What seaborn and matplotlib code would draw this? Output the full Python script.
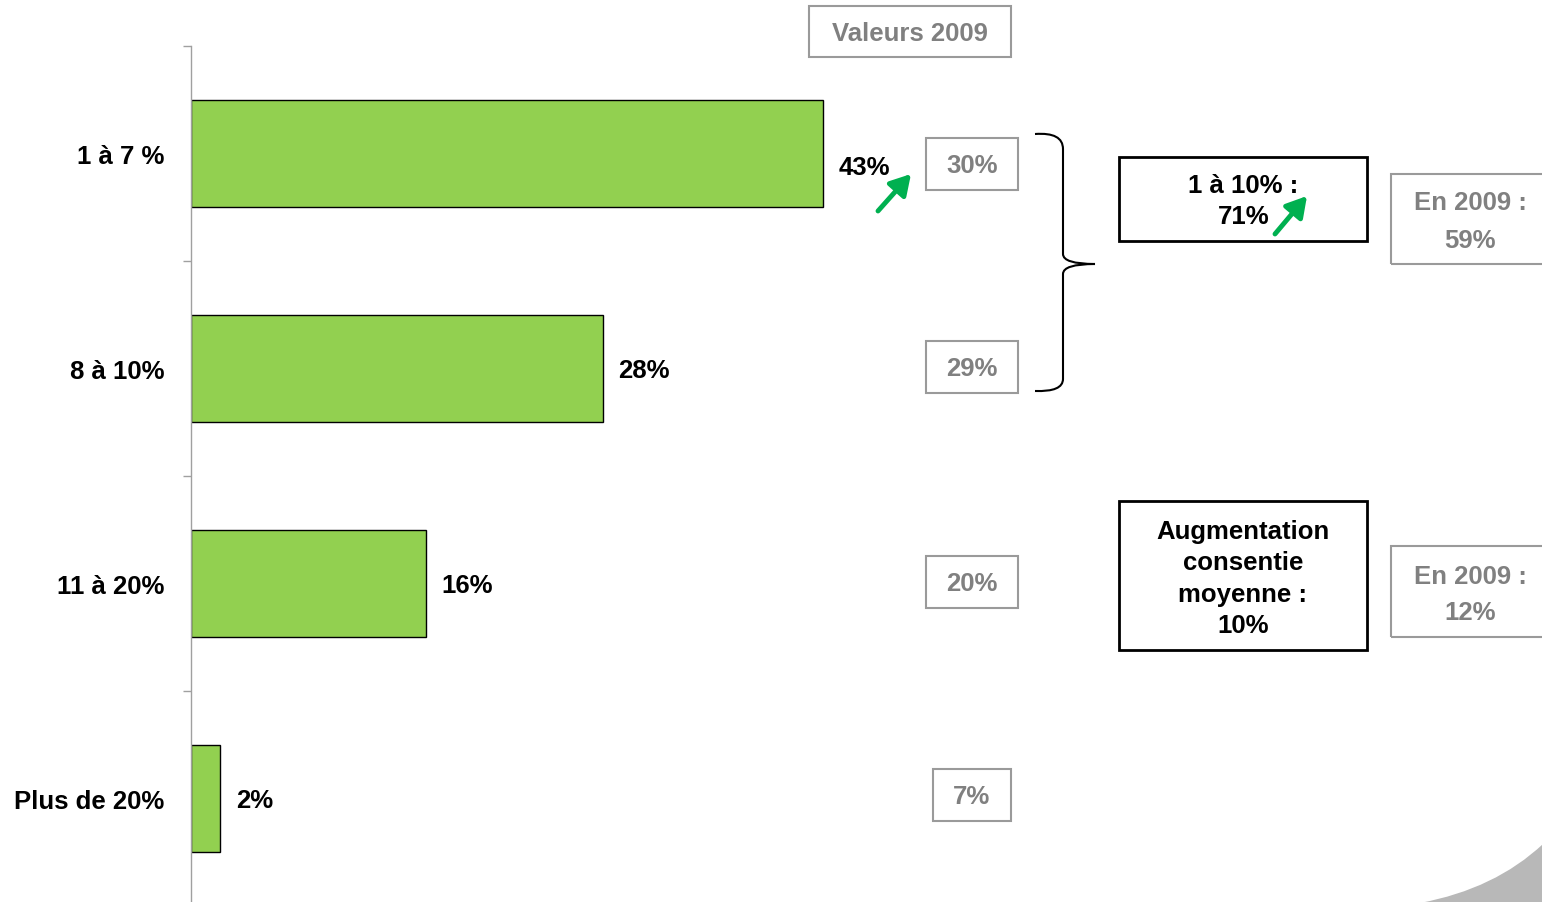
import numpy as np
import pandas as pd
import matplotlib
matplotlib.use("Agg")
import matplotlib.pyplot as plt
import seaborn as sns
from matplotlib.patches import Rectangle, FancyArrowPatch, PathPatch
from matplotlib.path import Path

# data
categories = ["1 à 7 %", "8 à 10%", "11 à 20%", "Plus de 20%"]
values = [43, 28, 16, 2]
values_2009 = [30, 29, 20, 7]
group_label = "1 à 10% :"
group_value = 71
group_value_2009 = 59
avg_value = 10
avg_value_2009 = 12

df = pd.DataFrame({"cat": categories, "val": values})

sns.set_style("white")
plt.rcParams["font.family"] = ["Liberation Sans", "DejaVu Sans"]
plt.rcParams["font.weight"] = "bold"

W, H = 1542, 903
fig = plt.figure(figsize=(W / 100, H / 100), dpi=100)
ax = fig.add_axes([191 / W, -4 / H, 1 - 191 / W, 860 / H])

green = "#92D050"
grey_txt = "#808080"
grey_edge = "#9A9A9A"
arrow_green = "#00B050"
fs = 18.5

sns.barplot(data=df, x="val", y="cat", orient="h", color=green, width=0.5,
            edgecolor="black", linewidth=1, saturation=1, ax=ax)
ax.set_xlim(0, 1351 / 14.7)
ax.set_ylim(3.5, -0.5)
ax.set_xlabel("")
ax.set_ylabel("")
for s in ["top", "right", "bottom"]:
    ax.spines[s].set_visible(False)
ax.spines["left"].set_color("#A0A0A0")
ax.spines["left"].set_linewidth(1)
ax.set_xticks([])
ax.tick_params(axis="y", which="major", length=0, pad=19, labelsize=fs, labelcolor="black")
ax.set_yticks(np.arange(len(categories)) - 0.5, minor=True)
ax.tick_params(axis="y", which="minor", left=True, length=6, color="#A0A0A0", width=1)
for t in ax.get_yticklabels():
    t.set_fontweight("bold")
    t.set_color("black")

labels = ax.bar_label(ax.containers[0], labels=[f"{v}%" for v in values],
                      padding=11, fontsize=fs, fontweight="bold", color="black")
labels[0].xyann = (11, -10)
for lb in labels[1:]:
    lb.xyann = (11, -1)


def fx(x):
    return x / W


def fy(y):
    return 1 - y / H


def box(x0, y0, x1, y1, ec, lw=1.5):
    fig.add_artist(Rectangle((fx(x0), fy(y1)), fx(x1) - fx(x0), fy(y0) - fy(y1),
                             transform=fig.transFigure, fill=False, ec=ec, lw=lw))


def txt(x, y, s, color, ls=1.2):
    fig.text(fx(x), fy(y), s, ha="center", va="center", fontsize=fs,
             fontweight="bold", color=color, linespacing=ls)


# Valeurs 2009 header
box(809, 7, 1011, 58, grey_edge)
txt(910, 34, "Valeurs 2009", grey_txt)

# 2009 values column
box_x = [(926, 1018), (926, 1018), (926, 1018), (933, 1011)]
box_cy = [165, 368, 583, 796]
for (x0, x1), cy, v in zip(box_x, box_cy, values_2009):
    box(x0, cy - 26, x1, cy + 26, grey_edge)
    txt((x0 + x1) / 2, cy + 1, f"{v}%", grey_txt)

# brace
pts = [(1035, 135), (1063, 133), (1063, 150), (1063, 255), (1063, 265), (1095, 265),
       (1063, 265), (1063, 275), (1063, 380), (1063, 393), (1035, 392)]
codes = [Path.MOVETO, Path.CURVE3, Path.CURVE3, Path.LINETO, Path.CURVE3, Path.CURVE3,
         Path.CURVE3, Path.CURVE3, Path.LINETO, Path.CURVE3, Path.CURVE3]
brace = Path([(fx(a), fy(b)) for a, b in pts], codes)
fig.add_artist(PathPatch(brace, transform=fig.transFigure, fill=False, ec="black", lw=1.5))

# group box
box(1119, 158, 1367, 242, "black", 2)
txt(1243, 186, group_label, "black")
txt(1244, 217, f"{group_value}%", "black")
box(1391, 175, 1560, 265, grey_edge)
txt(1470, 222, f"En 2009 :\n{group_value_2009}%", grey_txt, ls=1.7)

# average box
box(1119, 502, 1367, 651, "black", 2)
txt(1243, 579, f"Augmentation\nconsentie\nmoyenne :\n{avg_value}%", "black", ls=1.37)
box(1391, 547, 1560, 638, grey_edge)
txt(1470, 595, f"En 2009 :\n{avg_value_2009}%", grey_txt, ls=1.65)

# green arrows
for (xa, ya), (xb, yb) in [((878, 212), (911, 175)), ((1275, 235), (1307, 197))]:
    fig.add_artist(FancyArrowPatch((fx(xa), fy(ya)), (fx(xb), fy(yb)),
                                   transform=fig.transFigure, color=arrow_green,
                                   arrowstyle="-|>,head_width=0.32,head_length=0.55",
                                   mutation_scale=22, lw=3.5, shrinkA=0, shrinkB=0))

# grey swoosh bottom right
sw = [(1420, 904), (1495, 890), (1543, 845), (1543, 904), (1420, 904)]
sw_codes = [Path.MOVETO, Path.CURVE3, Path.CURVE3, Path.LINETO, Path.CLOSEPOLY]
fig.add_artist(PathPatch(Path([(fx(a), fy(b)) for a, b in sw], sw_codes),
                         transform=fig.transFigure, fc="#B8B8B8", ec="none"))

fig.savefig("out.png", dpi=100)
